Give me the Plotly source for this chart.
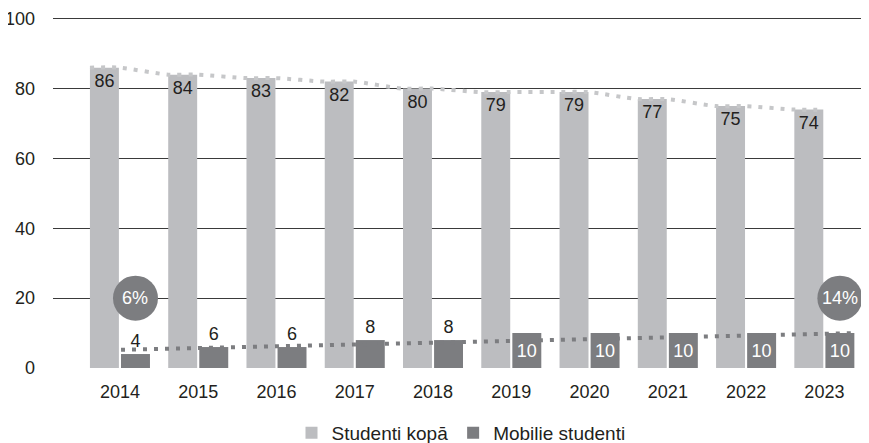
import plotly.graph_objects as go

years = ["2014", "2015", "2016", "2017", "2018", "2019", "2020", "2021", "2022", "2023"]
total_students = [86, 84, 83, 82, 80, 79, 79, 77, 75, 74]
mobile_students = [4, 6, 6, 8, 8, 10, 10, 10, 10, 10]
mobile_trend_ends = [5.2, 10.0]          # dotted trend for mobile students (first/last year)
share_labels = ["6%", "14%"]             # share of mobile students, first and last year
share_level = 20
y_ticks = [0, 20, 40, 60, 80, 100]

LIGHT = "#bcbdc0"
DARK = "#7c7d80"
TXT = "#231f20"
FONT = "Liberation Sans, Arial, sans-serif"

n = len(years)
xs = list(range(n))
W = 0.37
OFF_L = -0.384
OFF_D = 0.013

fig = go.Figure()
fig.add_trace(go.Bar(
    x=xs, y=total_students, name="Studenti kopā",
    marker=dict(color=LIGHT, line=dict(width=0)),
    width=W, offset=OFF_L,
    text=[str(v) for v in total_students], textposition="inside",
    insidetextanchor="end", textangle=0,
    textfont=dict(color=TXT, size=18, family=FONT),
    hoverinfo="skip",
))
fig.add_trace(go.Bar(
    x=xs, y=mobile_students, name="Mobilie studenti",
    marker=dict(color=DARK, line=dict(width=0)),
    width=W, offset=OFF_D,
    text=[str(v) for v in mobile_students],
    textposition=["outside" if v < 10 else "inside" for v in mobile_students],
    insidetextanchor="middle", textangle=0,
    textfont=dict(color=[TXT if v < 10 else "white" for v in mobile_students], size=18, family=FONT),
    cliponaxis=False,
    hoverinfo="skip",
))

# dotted line along tops of total bars
tx, ty = [], []
for i, v in enumerate(total_students):
    tx += [i + OFF_L, i + OFF_L + W]
    ty += [v, v]
fig.add_trace(go.Scatter(
    x=tx, y=ty, mode="lines", showlegend=False, hoverinfo="skip",
    line=dict(color="#c6c7c9", width=4, dash="4px,7px", shape="spline", smoothing=0.8),
))
# dotted trend for mobile students
fig.add_trace(go.Scatter(
    x=[0 + OFF_D, n - 1 + OFF_D + W], y=mobile_trend_ends, mode="lines",
    showlegend=False, hoverinfo="skip",
    line=dict(color=DARK, width=4, dash="4px,7px"),
))

# share circles
for idx, lab in zip([0, n - 1], share_labels):
    cx = idx + OFF_D + W / 2
    fig.add_shape(type="circle", xref="x", yref="y", xsizemode="pixel", ysizemode="pixel",
                  xanchor=cx, yanchor=share_level, x0=-22.5, x1=22.5, y0=-22.5, y1=22.5,
                  fillcolor=DARK, line=dict(width=0), layer="above")
    fig.add_annotation(x=cx, y=share_level, text=lab, showarrow=False,
                       font=dict(color="white", size=18, family=FONT))

# page body has an 8px margin, so the figure is sized to end at the window edge
fig.update_layout(
    width=861, height=435,
    margin=dict(l=45, r=0, t=9, b=75, autoexpand=False),
    paper_bgcolor="white", plot_bgcolor="white",
    barmode="overlay",
    font=dict(family=FONT, color=TXT, size=18),
    showlegend=True,
    legend=dict(orientation="h", x=0.5, xanchor="center", xref="paper",
                y=-0.185, yanchor="middle", yref="paper",
                font=dict(size=19, color=TXT), traceorder="normal"),
    xaxis=dict(range=[-0.856, 9.57], tickmode="array", tickvals=xs, ticktext=years,
               showgrid=False, zeroline=False, showline=False, ticks="", automargin=False,
               ticklabelstandoff=11, tickfont=dict(size=18, color=TXT)),
    yaxis=dict(range=[0, 100.5], tickmode="array", tickvals=y_ticks, automargin=False,
               showgrid=True, gridcolor="#3a3a3a", gridwidth=1,
               zeroline=False, showline=False, ticks="",
               ticklabelstandoff=17, tickfont=dict(size=18, color=TXT)),
)

fig.write_html("out.html")
